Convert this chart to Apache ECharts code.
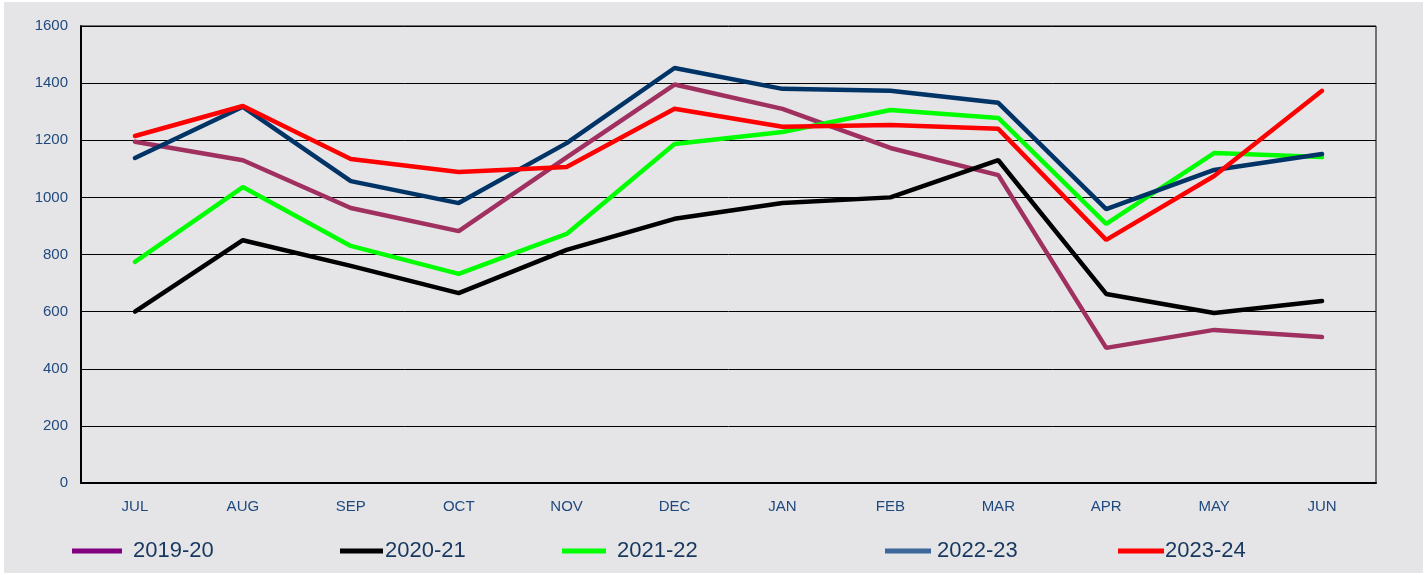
<!DOCTYPE html>
<html>
<head>
<meta charset="UTF-8">
<title>Monthly comparison</title>
<script src="https://cdn.jsdelivr.net/npm/echarts@6/dist/echarts.min.js"></script>
<style>
  html, body { margin: 0; padding: 0; background: #ffffff; }
  #chart { position: absolute; left: 4px; top: 2px; width: 1419px; height: 571px; background: #e5e5e8; }
</style>
</head>
<body>
<div id="chart"></div>
<script>
// month labels and series values
var months = ['JUL', 'AUG', 'SEP', 'OCT', 'NOV', 'DEC', 'JAN', 'FEB', 'MAR', 'APR', 'MAY', 'JUN'];
var y2019 = [1195, 1130, 963, 882, 1140, 1395, 1310, 1173, 1078, 473, 536, 511];
var y2020 = [600, 850, 760, 665, 816, 925, 980, 1000, 1130, 662, 595, 637];
var y2021 = [774, 1036, 830, 732, 872, 1187, 1229, 1306, 1278, 907, 1155, 1141];
var y2022 = [1138, 1317, 1057, 980, 1190, 1453, 1380, 1373, 1331, 959, 1096, 1152];
var y2023 = [1215, 1320, 1134, 1089, 1106, 1310, 1247, 1253, 1240, 851, 1075, 1373];

var names = ['2019-20', '2020-21', '2021-22', '2022-23', '2023-24'];
var values = [y2019, y2020, y2021, y2022, y2023];
var lineColors = ['#a03060', '#000000', '#00ff00', '#003366', '#ff0000'];
var keyColors = ['#800080', '#000000', '#00ff00', '#3d6699', '#ff0000'];

// legend keys are spaced unevenly in the original
var legendLeft = [68, 336, 558, 881, 1114];
var legendWidth = [50, 43, 44, 46, 46];
var legendTextGap = [6, -3, 6, 1, -4];

var chart = echarts.init(document.getElementById('chart'));

var legends = names.map(function (n, i) {
    return {
        left: legendLeft[i],
        top: 538,
        padding: 0,
        icon: 'rect',
        itemWidth: legendWidth[i],
        itemHeight: 5,
        textStyle: {
            fontFamily: 'Liberation Sans', fontSize: 22, color: '#17375e',
            padding: [0, 0, 0, legendTextGap[i]]
        },
        data: [{ name: n, itemStyle: { color: keyColors[i] } }]
    };
});

var series = names.map(function (n, i) {
    return {
        name: n,
        type: 'line',
        data: values[i],
        symbol: 'none',
        lineStyle: { width: 4.5, color: lineColors[i], cap: 'round' },
        itemStyle: { color: lineColors[i] },
        z: 2 + i
    };
});

chart.setOption({
    animation: false,
    legend: legends,
    grid: {
        left: 77, right: 47, top: 24, bottom: 90,
        show: true, borderColor: '#000', borderWidth: 1
    },
    xAxis: {
        type: 'category',
        data: months,
        boundaryGap: true,
        axisLine: { lineStyle: { color: '#000', width: 2 } },
        axisTick: { show: false },
        axisLabel: { color: '#1f497d', fontFamily: 'Liberation Sans', fontSize: 15, margin: 16 }
    },
    yAxis: {
        type: 'value',
        min: 0, max: 1600, interval: 200,
        axisLine: { show: true, lineStyle: { color: '#000', width: 2 } },
        axisTick: { show: false },
        splitLine: { lineStyle: { color: '#000', width: 1 } },
        axisLabel: {
            color: '#1f497d', fontFamily: 'Liberation Sans', fontSize: 15, margin: 13,
            formatter: function (v) { return String(v); }
        }
    },
    series: series
});
</script>
</body>
</html>
